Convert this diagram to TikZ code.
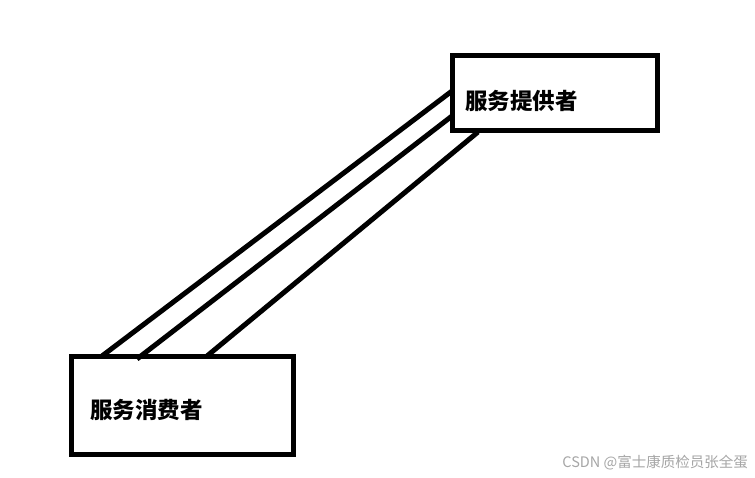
\documentclass[tikz,border=0pt]{standalone}
\usepackage{fontspec}
\newfontfamily\cjk{Noto Sans CJK SC}
\begin{document}
\begin{tikzpicture}[x=1pt,y=-1pt,
  box/.style={draw=black,line width=5pt,inner sep=0pt,outer sep=0pt},
  lbl/.style={font=\cjk\bfseries\fontsize{22.5}{24}\selectfont,anchor=west,inner sep=0pt},
  link/.style={line width=5pt,draw=black}]
\useasboundingbox[fill=white] (0,0) rectangle (755,477);
% connector end points
\coordinate (c1) at (102,356);
\coordinate (c2) at (137,359);
\coordinate (c3) at (207,356);
\coordinate (p1) at (452,91);
\coordinate (p2) at (452,116);
\coordinate (p3) at (478,132);
\draw[link] (c1) -- (p1);
\draw[link] (c2) -- (p2);
\draw[link] (c3) -- (p3);
\node[box,minimum width=205pt,minimum height=75pt] (provbox) at (554.5,92.5) {};
\node[box,minimum width=222pt,minimum height=98pt] (consbox) at (182,405) {};
\node[lbl] (prov) at (465,101) {服务提供者};
\node[lbl] (cons) at (90,410) {服务消费者};
\node[font=\cjk\fontsize{14.5}{16}\selectfont,text=black!35,anchor=east,inner sep=0pt] (wm) at (748,463) {CSDN @富士康质检员张全蛋};
\end{tikzpicture}
\end{document}
